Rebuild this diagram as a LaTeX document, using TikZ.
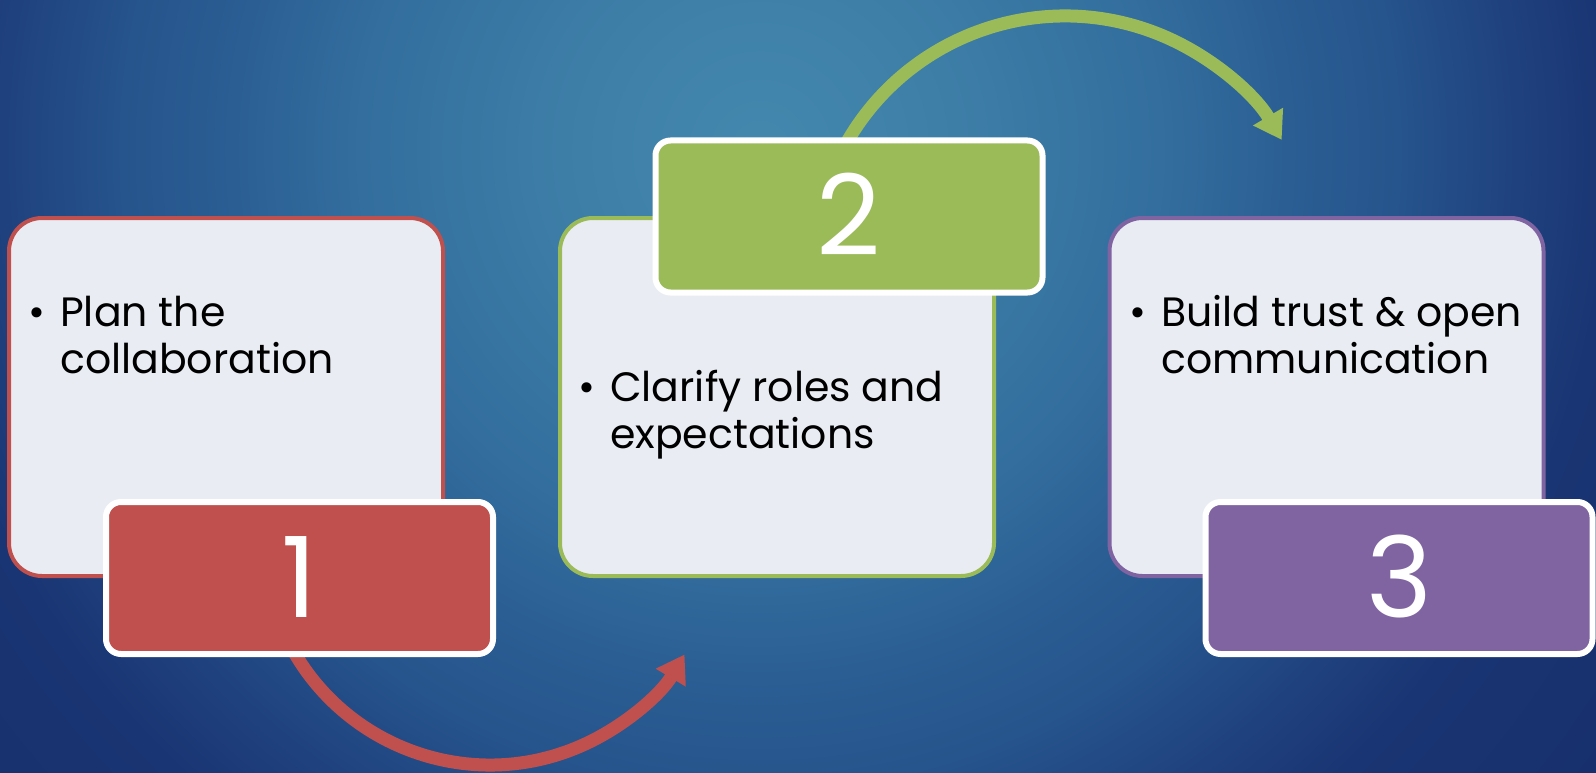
\documentclass[tikz,border=0pt]{standalone}
\usepackage{fontspec}
\setmainfont{Poppins}
\usetikzlibrary{arrows.meta,calc}
\definecolor{cred}{HTML}{C0504D}
\definecolor{cgreen}{HTML}{9BBB59}
\definecolor{cpurple}{HTML}{8064A2}
\definecolor{cpanel}{HTML}{E9EDF3}
\definecolor{bgA}{HTML}{4488AE}
\definecolor{bgB}{HTML}{3D7EA7}
\definecolor{bgC}{HTML}{336E9E}
\definecolor{bgD}{HTML}{295B91}
\definecolor{bgE}{HTML}{26548C}
\definecolor{bgF}{HTML}{1E3F7C}
\definecolor{bgG}{HTML}{1A3573}
\definecolor{bgH}{HTML}{172F6D}
\definecolor{bgI}{HTML}{152C6A}
\pgfdeclareradialshading{bgshade}{\pgfpoint{0bp}{0bp}}{color(0bp)=(bgA); color(4.5bp)=(bgB); color(9.1bp)=(bgC); color(12.7bp)=(bgD); color(14.5bp)=(bgE); color(17.6bp)=(bgF); color(19.3bp)=(bgG); color(23.7bp)=(bgH); color(25bp)=(bgI); color(50bp)=(bgI)}
\tikzset{
  panel/.style={rectangle, rounded corners=33, fill=cpanel, line width=4pt, minimum width=434pt, minimum height=358pt, inner sep=0pt},
  numbox/.style={rectangle, rounded corners=15, draw=white, line width=6pt, minimum width=387pt, minimum height=152pt, inner sep=0pt, text=white, font=\fontsize{112}{112}\selectfont, text height=78pt, text depth=0pt},
  bullettext/.style={anchor=base west, inner sep=0pt, text=black, font=\fontsize{41}{47}\selectfont},
  flow/.style={line width=13pt, -{Triangle[length=27pt,width=33pt]}}
}
\newcommand{\bulletlines}[2]{\begin{tabular}[t]{@{}l@{}l@{}}\makebox[32pt][l]{\textbullet}&#1\\&#2\end{tabular}}
\begin{document}
\begin{tikzpicture}[x=1pt,y=-1pt]
\useasboundingbox (0,0) rectangle (1596,773);
\begin{scope}
  \clip (0,0) rectangle (1596,773);
  \fill[bgI] (0,0) rectangle (1596,773);
  \shade[shading=bgshade] (760,150) circle (1100);
\end{scope}
% panels
\node[panel, draw=cred] (p1) at (226,397) {};
\node[panel, draw=cgreen] (p2) at (777,397) {};
\node[panel, draw=cpurple] (p3) at (1326.5,397) {};
% texts
\node[bullettext] (t1) at (28,326) {\bulletlines{Plan the}{collaboration}};
\node[bullettext] (t2) at (578,401) {\bulletlines{Clarify roles and}{expectations}};
\node[bullettext] (t3) at (1129,326) {\bulletlines{Build trust \& open}{communication}};
% arcs
\coordinate (rc) at (490,538.5);
\coordinate (r0) at ($(rc)+(155:226.5)$);
\draw[flow, cred] (r0) arc[start angle=155, end angle=30.8, radius=226.5];
\coordinate (gc) at (1065,267.5);
\coordinate (g0) at ($(gc)+(-155:251.5)$);
\draw[flow, cgreen] (g0) arc[start angle=-155, end angle=-30.5, radius=251.5];
% number boxes
\node[numbox, fill=cred] (n1) at (299.5,578) {1};
\node[numbox, fill=cgreen] (n2) at (849,216.5) {2};
\node[numbox, fill=cpurple] (n3) at (1399,578) {3};
\end{tikzpicture}
\end{document}
